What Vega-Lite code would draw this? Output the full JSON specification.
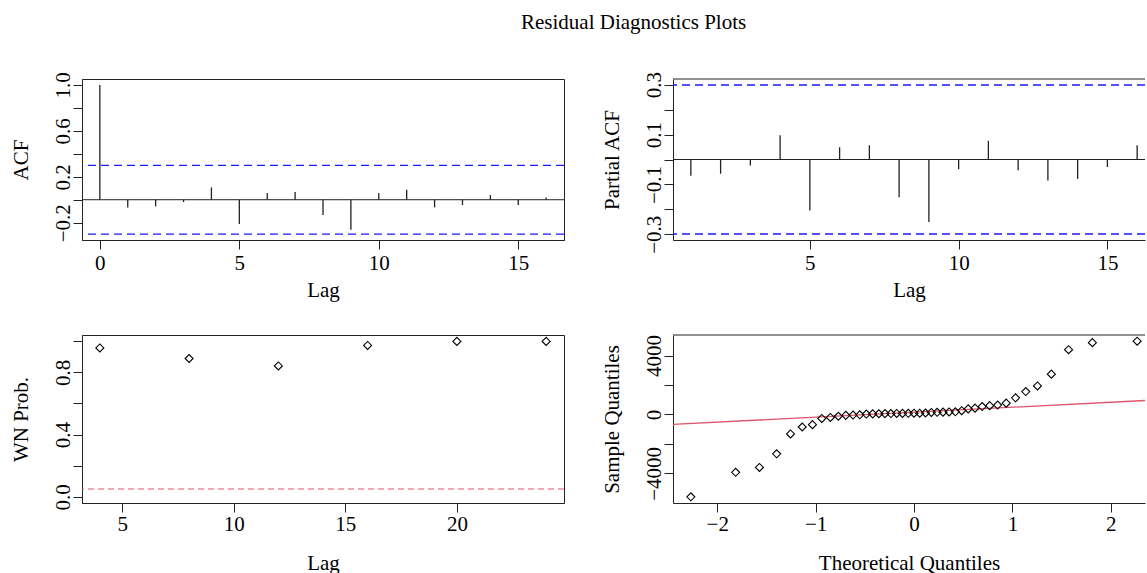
{
  "$schema": "https://vega.github.io/schema/vega-lite/v6.json",
  "background": "white",
  "padding": {"left": 9, "top": 12, "right": 0, "bottom": 0},
  "title": {"text": "Residual Diagnostics Plots", "font": "Liberation Serif", "fontSize": 21, "fontWeight": "normal", "color": "#000", "anchor": "middle", "dx": 56, "offset": 38},
  "datasets": {
    "acf": [
      {"lag": 0, "v": 1.0}, {"lag": 1, "v": -0.067}, {"lag": 2, "v": -0.058}, {"lag": 3, "v": -0.02},
      {"lag": 4, "v": 0.107}, {"lag": 5, "v": -0.212}, {"lag": 6, "v": 0.058}, {"lag": 7, "v": 0.067},
      {"lag": 8, "v": -0.133}, {"lag": 9, "v": -0.261}, {"lag": 10, "v": 0.058}, {"lag": 11, "v": 0.087},
      {"lag": 12, "v": -0.067}, {"lag": 13, "v": -0.046}, {"lag": 14, "v": 0.041}, {"lag": 15, "v": -0.046},
      {"lag": 16, "v": 0.02}
    ],
    "pacf": [
      {"lag": 1, "v": -0.065}, {"lag": 2, "v": -0.057}, {"lag": 3, "v": -0.024}, {"lag": 4, "v": 0.097},
      {"lag": 5, "v": -0.205}, {"lag": 6, "v": 0.049}, {"lag": 7, "v": 0.057}, {"lag": 8, "v": -0.151},
      {"lag": 9, "v": -0.251}, {"lag": 10, "v": -0.039}, {"lag": 11, "v": 0.075}, {"lag": 12, "v": -0.043},
      {"lag": 13, "v": -0.084}, {"lag": 14, "v": -0.078}, {"lag": 15, "v": -0.03}, {"lag": 16, "v": 0.057}
    ],
    "clim": [{"v": 0.299}, {"v": -0.299}],
    "zero": [{"v": 0}],
    "wn": [
      {"lag": 4, "v": 0.957}, {"lag": 8, "v": 0.889}, {"lag": 12, "v": 0.841},
      {"lag": 16, "v": 0.973}, {"lag": 20, "v": 0.999}, {"lag": 24, "v": 0.999}
    ],
    "wnline": [{"v": 0.05}],
    "qq": [
      {"theo": -2.268, "v": -5590}, {"theo": -1.813, "v": -3930}, {"theo": -1.571, "v": -3600},
      {"theo": -1.396, "v": -2670}, {"theo": -1.255, "v": -1320}, {"theo": -1.136, "v": -850},
      {"theo": -1.032, "v": -690}, {"theo": -0.937, "v": -270}, {"theo": -0.85, "v": -200},
      {"theo": -0.769, "v": -120}, {"theo": -0.693, "v": -60}, {"theo": -0.62, "v": -40},
      {"theo": -0.551, "v": -20}, {"theo": -0.485, "v": 30}, {"theo": -0.42, "v": 40},
      {"theo": -0.357, "v": 50}, {"theo": -0.295, "v": 60}, {"theo": -0.235, "v": 65},
      {"theo": -0.176, "v": 70}, {"theo": -0.117, "v": 75}, {"theo": -0.058, "v": 80},
      {"theo": 0, "v": 85}, {"theo": 0.058, "v": 90}, {"theo": 0.117, "v": 100},
      {"theo": 0.176, "v": 140}, {"theo": 0.235, "v": 150}, {"theo": 0.295, "v": 160},
      {"theo": 0.357, "v": 170}, {"theo": 0.42, "v": 180}, {"theo": 0.485, "v": 260},
      {"theo": 0.551, "v": 380}, {"theo": 0.62, "v": 430}, {"theo": 0.693, "v": 540},
      {"theo": 0.769, "v": 600}, {"theo": 0.85, "v": 640}, {"theo": 0.937, "v": 770},
      {"theo": 1.032, "v": 1130}, {"theo": 1.136, "v": 1560}, {"theo": 1.255, "v": 1940},
      {"theo": 1.396, "v": 2740}, {"theo": 1.571, "v": 4400}, {"theo": 1.813, "v": 4880},
      {"theo": 2.268, "v": 4980}
    ],
    "qqline": [{"theo": -2.6, "v": -719}, {"theo": 2.6, "v": 1033}]
  },
  "config": {
    "font": "Liberation Serif",
    "view": {"stroke": "#222", "strokeWidth": 1},
    "axis": {
      "labelFont": "Liberation Serif", "labelFontSize": 21, "labelColor": "#000",
      "titleFont": "Liberation Serif", "titleFontSize": 21, "titleFontWeight": "normal", "titleColor": "#000",
      "tickColor": "#222", "tickSize": 9, "domainColor": "#222", "grid": false,
      "labelFlush": false, "labelOverlap": false
    },
    "axisX": {"labelPadding": 3, "titlePadding": 6},
    "axisY": {"labelAngle": -90, "labelAlign": "center", "labelBaseline": "alphabetic", "labelPadding": 4, "titlePadding": 21}
  },
  "spacing": 33,
  "vconcat": [
    {
      "spacing": 109,
      "bounds": "flush",
      "hconcat": [
        {
          "width": 482, "height": 161,
          "layer": [
            {
              "data": {"name": "acf"},
              "mark": {"type": "rule", "color": "#222", "strokeWidth": 1.3},
              "encoding": {
                "x": {"field": "lag", "type": "quantitative", "scale": {"domain": [-0.64, 16.64], "nice": false, "zero": false},
                      "axis": {"values": [0, 5, 10, 15], "format": "d", "title": "Lag"}},
                "y": {"field": "v", "type": "quantitative", "scale": {"domain": [-0.351, 1.052], "nice": false, "zero": false},
                      "axis": {"values": [-0.2, 0, 0.2, 0.4, 0.6, 0.8, 1.0], "format": ".1f", "title": "ACF",
                               "labelExpr": "(datum.value == 1 || datum.value == 0.6 || datum.value == 0.2 || datum.value == -0.2) ? datum.label : ''"}},
                "y2": {"datum": 0}
              }
            },
            {
              "data": {"name": "zero"},
              "mark": {"type": "rule", "color": "#222", "strokeWidth": 1},
              "encoding": {"y": {"field": "v", "type": "quantitative", "scale": {"domain": [-0.351, 1.052], "nice": false, "zero": false},
                      "axis": {"values": [-0.2, 0, 0.2, 0.4, 0.6, 0.8, 1.0], "format": ".1f", "title": "ACF",
                               "labelExpr": "(datum.value == 1 || datum.value == 0.6 || datum.value == 0.2 || datum.value == -0.2) ? datum.label : ''"}}}
            },
            {
              "data": {"name": "clim"},
              "mark": {"type": "rule", "color": "#1a1aff", "strokeWidth": 1.3, "strokeDash": [8, 5]},
              "encoding": {"y": {"field": "v", "type": "quantitative", "scale": {"domain": [-0.351, 1.052], "nice": false, "zero": false},
                      "axis": {"values": [-0.2, 0, 0.2, 0.4, 0.6, 0.8, 1.0], "format": ".1f", "title": "ACF",
                               "labelExpr": "(datum.value == 1 || datum.value == 0.6 || datum.value == 0.2 || datum.value == -0.2) ? datum.label : ''"}}}
            }
          ]
        },
        {
          "width": 472, "height": 161,
          "view": {"stroke": null},
          "layer": [
            {
              "data": {"name": "pacf"},
              "mark": {"type": "rule", "color": "#222", "strokeWidth": 1.3},
              "encoding": {
                "x": {"field": "lag", "type": "quantitative", "scale": {"domain": [0.4, 16.264], "nice": false, "zero": false},
                      "axis": {"values": [5, 10, 15], "format": "d", "title": "Lag"}},
                "y": {"field": "v", "type": "quantitative", "scale": {"domain": [-0.323, 0.323], "nice": false, "zero": false},
                      "axis": {"values": [-0.3, -0.2, -0.1, 0, 0.1, 0.2, 0.3], "format": ".1f", "title": "Partial ACF",
                               "labelExpr": "(datum.value == 0.3 || datum.value == 0.1 || datum.value == -0.1 || datum.value == -0.3) ? datum.label : ''"}},
                "y2": {"datum": 0}
              }
            },
            {
              "data": {"name": "zero"},
              "mark": {"type": "rule", "color": "#222", "strokeWidth": 1},
              "encoding": {"y": {"field": "v", "type": "quantitative", "scale": {"domain": [-0.323, 0.323], "nice": false, "zero": false},
                      "axis": {"values": [-0.3, -0.2, -0.1, 0, 0.1, 0.2, 0.3], "format": ".1f", "title": "Partial ACF",
                               "labelExpr": "(datum.value == 0.3 || datum.value == 0.1 || datum.value == -0.1 || datum.value == -0.3) ? datum.label : ''"}}}
            },
            {
              "data": {"name": "zero"},
              "mark": {"type": "rule", "color": "#222", "strokeWidth": 1},
              "encoding": {"y": {"datum": 0.323, "type": "quantitative", "scale": {"domain": [-0.323, 0.323], "nice": false, "zero": false},
                      "axis": {"values": [-0.3, -0.2, -0.1, 0, 0.1, 0.2, 0.3], "format": ".1f", "title": "Partial ACF",
                               "labelExpr": "(datum.value == 0.3 || datum.value == 0.1 || datum.value == -0.1 || datum.value == -0.3) ? datum.label : ''"}}}
            },
            {
              "data": {"name": "clim"},
              "mark": {"type": "rule", "color": "#1a1aff", "strokeWidth": 1.3, "strokeDash": [8, 5]},
              "encoding": {"y": {"field": "v", "type": "quantitative", "scale": {"domain": [-0.323, 0.323], "nice": false, "zero": false},
                      "axis": {"values": [-0.3, -0.2, -0.1, 0, 0.1, 0.2, 0.3], "format": ".1f", "title": "Partial ACF",
                               "labelExpr": "(datum.value == 0.3 || datum.value == 0.1 || datum.value == -0.1 || datum.value == -0.3) ? datum.label : ''"}}}
            }
          ]
        }
      ]
    },
    {
      "spacing": 109,
      "bounds": "flush",
      "hconcat": [
        {
          "width": 482, "height": 168,
          "layer": [
            {
              "data": {"name": "wnline"},
              "mark": {"type": "rule", "color": "#DF536B", "strokeWidth": 1.1, "strokeDash": [6, 4]},
              "encoding": {"y": {"field": "v", "type": "quantitative", "scale": {"domain": [-0.04, 1.04], "nice": false, "zero": false},
                      "axis": {"values": [0, 0.2, 0.4, 0.6, 0.8, 1.0], "format": ".1f", "title": "WN Prob.",
                               "labelExpr": "(datum.value == 0 || datum.value == 0.4 || datum.value == 0.8) ? datum.label : ''"}}}
            },
            {
              "data": {"name": "wn"},
              "mark": {"type": "point", "shape": "diamond", "filled": false, "color": "#000", "size": 64, "strokeWidth": 1.1, "opacity": 1},
              "encoding": {
                "x": {"field": "lag", "type": "quantitative", "scale": {"domain": [3.2, 24.8], "nice": false, "zero": false},
                      "axis": {"values": [5, 10, 15, 20], "format": "d", "title": "Lag", "labelPadding": 1, "titlePadding": 18}},
                "y": {"field": "v", "type": "quantitative", "scale": {"domain": [-0.04, 1.04], "nice": false, "zero": false},
                      "axis": {"values": [0, 0.2, 0.4, 0.6, 0.8, 1.0], "format": ".1f", "title": "WN Prob.",
                               "labelExpr": "(datum.value == 0 || datum.value == 0.4 || datum.value == 0.8) ? datum.label : ''"}}
              }
            }
          ]
        },
        {
          "width": 472, "height": 168,
          "view": {"stroke": null},
          "layer": [
            {
              "data": {"name": "qqline"},
              "mark": {"type": "line", "color": "#DF536B", "strokeWidth": 1.3, "clip": true},
              "encoding": {
                "x": {"field": "theo", "type": "quantitative", "scale": {"domain": [-2.4495, 2.3478], "nice": false, "zero": false},
                      "axis": {"values": [-2, -1, 0, 1, 2], "format": "d", "title": "Theoretical Quantiles", "labelPadding": 1, "titlePadding": 18}},
                "y": {"field": "v", "type": "quantitative", "scale": {"domain": [-6013, 5399], "nice": false, "zero": false},
                      "axis": {"values": [-4000, -2000, 0, 2000, 4000], "format": "d", "title": "Sample Quantiles",
                               "labelExpr": "(datum.value == 4000 || datum.value == 0 || datum.value == -4000) ? datum.label : ''"}}
              }
            },
            {
              "data": {"name": "zero"},
              "mark": {"type": "rule", "color": "#222", "strokeWidth": 1},
              "encoding": {"y": {"datum": 5399, "type": "quantitative", "scale": {"domain": [-6013, 5399], "nice": false, "zero": false},
                      "axis": {"values": [-4000, -2000, 0, 2000, 4000], "format": "d", "title": "Sample Quantiles",
                               "labelExpr": "(datum.value == 4000 || datum.value == 0 || datum.value == -4000) ? datum.label : ''"}}}
            },
            {
              "data": {"name": "qq"},
              "mark": {"type": "point", "shape": "diamond", "filled": false, "color": "#000", "size": 64, "strokeWidth": 1.1, "opacity": 1},
              "encoding": {
                "x": {"field": "theo", "type": "quantitative", "scale": {"domain": [-2.4495, 2.3478], "nice": false, "zero": false},
                      "axis": {"values": [-2, -1, 0, 1, 2], "format": "d", "title": "Theoretical Quantiles", "labelPadding": 1, "titlePadding": 18}},
                "y": {"field": "v", "type": "quantitative", "scale": {"domain": [-6013, 5399], "nice": false, "zero": false},
                      "axis": {"values": [-4000, -2000, 0, 2000, 4000], "format": "d", "title": "Sample Quantiles",
                               "labelExpr": "(datum.value == 4000 || datum.value == 0 || datum.value == -4000) ? datum.label : ''"}}
              }
            }
          ]
        }
      ]
    }
  ]
}
